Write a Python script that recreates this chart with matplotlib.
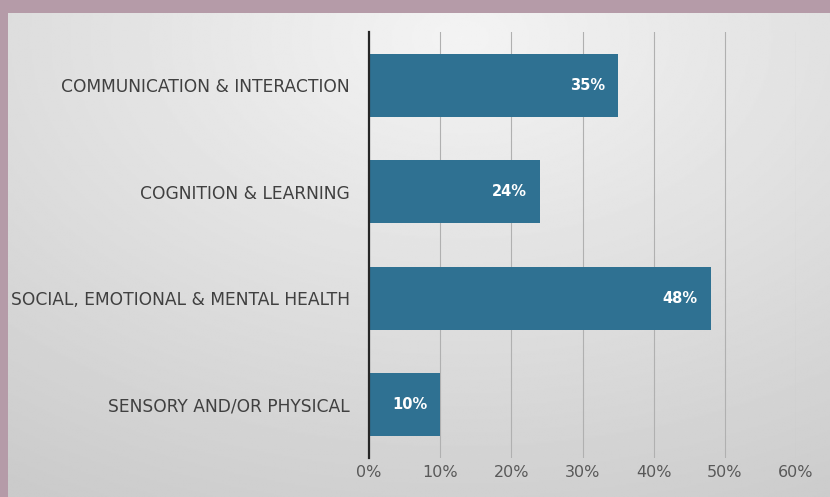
import numpy as np
import matplotlib.pyplot as plt
from matplotlib.ticker import MultipleLocator, FuncFormatter

categories = ['COMMUNICATION & INTERACTION', 'COGNITION & LEARNING',
              'SOCIAL, EMOTIONAL & MENTAL HEALTH', 'SENSORY AND/OR PHYSICAL']
values = [0.35, 0.24, 0.48, 0.10]

bar_color = '#2f7192'
border_color = '#b59ba8'

fig = plt.figure(figsize=(8.3, 4.97), dpi=100)
fig.patch.set_facecolor(border_color)

# gradient panel (light near top middle, greyer towards the edges)
bg = fig.add_axes([8 / 830, 0, 1 - 8 / 830, 1 - 13 / 497])
bg.set_axis_off()
yy, xx = np.mgrid[0:1:300j, 0:1:500j]
d = np.sqrt(((xx - 0.55) / 1.0) ** 2 + ((yy - 0.05) / 1.1) ** 2)
shade = 0.955 - 0.16 * np.clip(d, 0, 1)
bg.imshow(shade, cmap='gray', vmin=0, vmax=1, aspect='auto',
          extent=[0, 1, 1, 0], interpolation='bilinear')
bg.set_xlim(0, 1)
bg.set_ylim(1, 0)

ax = fig.add_axes([369 / 830, 1 - 458 / 497, (796 - 369) / 830, (458 - 32) / 497])
ax.patch.set_alpha(0)

y = np.arange(len(categories))
bars = ax.barh(y, values, height=0.59, color=bar_color, zorder=3)

for yi, v in zip(y, values):
    ax.annotate(f'{v:.0%}', xy=(v, yi), xytext=(-13, 0), textcoords='offset pixels',
                ha='right', va='center', color='white', fontweight='bold',
                fontsize=10.5, zorder=4)

ax.set_xlim(0, 0.6)
ax.set_ylim(3.5, -0.5)
ax.xaxis.set_major_locator(MultipleLocator(0.1))
ax.xaxis.set_major_formatter(FuncFormatter(lambda v, p: f'{v:.0%}'))
ax.set_yticks(y)
ax.set_yticklabels(categories)
ax.grid(axis='x', color='#b0b0b0', lw=0.8, zorder=1)
for s in ['top', 'right', 'bottom']:
    ax.spines[s].set_visible(False)
ax.spines['left'].set_color('#262626')
ax.spines['left'].set_linewidth(1.6)
ax.spines['left'].set_zorder(5)
ax.tick_params(axis='y', length=0, pad=14, labelsize=12.3, labelcolor='#404040')
ax.tick_params(axis='x', length=0, pad=5, labelsize=11.5, labelcolor='#595959')

fig.savefig('out.png', dpi=100, facecolor=fig.get_facecolor())
